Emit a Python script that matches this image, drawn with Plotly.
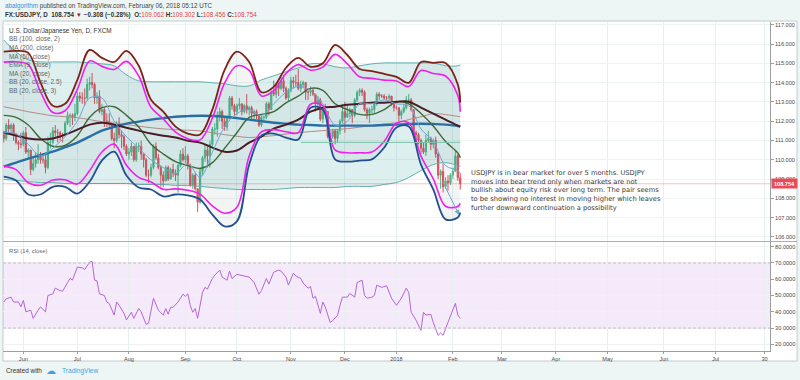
import plotly.graph_objects as go
import pandas as pd

# ---------------- data ----------------
start_date = "2017-05-22"
axis_end_date = "2018-07-31"
first_open = 111.3

closes = [
    111.1, 111.8, 111.6, 111.8, 111.3,
    110.9, 110.8, 110.8, 111.4, 110.4,
    110.5, 109.5, 109.8, 110.0, 110.3,
    110.0, 110.0, 109.6, 110.9, 110.9,
    111.5, 111.4, 111.4, 111.3, 111.3,
    111.9, 112.3, 112.3, 112.2, 112.4,
    113.3, 113.2, 113.2, 113.2, 113.9,
    114.0, 113.9, 113.2, 113.3, 112.5,
    112.6, 112.0, 112.0, 111.9, 111.1,
    111.0, 111.9, 111.3, 111.2, 110.7,
    110.3, 110.4, 110.7, 110.0, 110.7,
    110.7, 110.3, 110.0, 109.2, 109.2,
    109.6, 110.7, 110.1, 109.6, 109.2,
    108.9, 109.6, 109.0, 109.5, 109.3,
    109.2, 109.7, 110.3, 110.0, 110.2,
    109.7, 108.7, 109.2, 108.5, 107.8,
    109.4, 110.1, 110.5, 110.2, 110.8,
    111.6, 111.6, 112.3, 112.5, 112.0,
    111.7, 112.2, 113.2, 112.8, 112.5,
    112.8, 112.9, 112.5, 112.8, 112.6,
    112.7, 112.4, 112.5, 112.3, 111.8,
    112.2, 112.2, 112.9, 112.6, 113.5,
    113.4, 113.9, 113.7, 114.1, 113.7,
    113.2, 113.6, 114.1, 114.0, 114.0,
    113.7, 113.9, 114.0, 113.5, 113.5,
    113.6, 113.4, 112.9, 113.1, 112.1,
    112.6, 112.5, 111.2, 111.2, 111.5,
    111.1, 111.5, 112.0, 112.5, 112.2,
    112.4, 112.6, 112.3, 113.1, 113.5,
    113.6, 113.5, 112.6, 112.4, 112.6,
    112.6, 112.9, 113.4, 113.3, 113.3,
    113.2, 113.2, 113.3, 112.9, 112.7,
    112.7, 112.3, 112.5, 112.7, 113.1,
    113.1, 112.6, 111.4, 111.3, 111.0,
    110.6, 110.4, 111.0, 111.1, 110.8,
    111.0, 110.3, 109.2, 109.4, 108.6,
    108.9, 108.8, 109.2, 109.4, 110.2,
    109.062, 108.754]

highs = [
    111.5, 111.9, 112.1, 111.9, 111.9,
    111.4, 111.0, 111.4, 111.5, 111.7,
    110.6, 110.5, 110.2, 110.4, 110.8,
    110.4, 110.3, 110.3, 111.2, 111.4,
    111.7, 111.8, 111.6, 111.5, 111.4,
    112.0, 112.5, 112.4, 112.4, 112.9,
    113.5, 113.5, 113.5, 113.7, 114.2,
    114.3, 114.5, 114.0, 113.5, 113.6,
    112.9, 112.7, 112.4, 112.4, 111.9,
    111.4, 112.0, 112.2, 111.5, 111.3,
    110.8, 110.6, 110.9, 110.7, 110.9,
    110.9, 111.0, 110.3, 110.1, 109.5,
    109.8, 110.8, 110.9, 110.3, 109.7,
    109.4, 109.7, 109.7, 109.6, 109.8,
    109.5, 109.8, 110.5, 110.6, 110.7,
    110.3, 109.8, 109.3, 109.3, 108.5,
    109.6, 110.2, 110.8, 110.7, 111.0,
    111.7, 111.9, 112.5, 112.7, 112.6,
    112.2, 112.3, 113.3, 113.3, 112.9,
    112.9, 113.2, 112.9, 112.9, 113.4,
    112.8, 112.8, 112.6, 112.6, 112.3,
    112.3, 112.3, 113.0, 113.0, 113.6,
    114.1, 113.9, 114.0, 114.3, 114.4,
    113.8, 113.7, 114.3, 114.3, 114.4,
    114.7, 114.1, 114.1, 114.0, 113.6,
    113.8, 113.7, 113.4, 113.3, 113.2,
    112.7, 112.9, 112.5, 111.4, 111.6,
    111.6, 111.6, 112.1, 112.9, 113.0,
    112.9, 112.7, 112.6, 113.2, 113.6,
    113.7, 113.7, 113.6, 112.7, 112.7,
    112.8, 113.0, 113.5, 113.5, 113.4,
    113.4, 113.3, 113.4, 113.3, 112.9,
    112.8, 112.7, 112.6, 112.9, 113.3,
    113.4, 113.2, 112.6, 111.5, 111.4,
    111.1, 110.9, 111.3, 111.5, 111.2,
    111.1, 111.2, 110.4, 109.5, 109.8,
    109.1, 109.2, 109.3, 109.6, 110.5,
    110.3, 109.302]

lows = [
    110.9, 111.0, 111.4, 111.3, 111.0,
    110.8, 110.5, 110.6, 110.7, 110.3,
    110.1, 109.2, 109.4, 109.6, 109.8,
    109.8, 109.8, 109.3, 109.5, 110.6,
    110.8, 111.2, 110.9, 111.0, 110.9,
    111.2, 111.8, 111.7, 111.8, 112.0,
    112.3, 113.0, 112.9, 112.8, 113.1,
    113.6, 113.7, 112.9, 112.9, 112.4,
    112.3, 111.7, 111.7, 111.6, 111.0,
    110.6, 110.9, 111.1, 110.6, 110.5,
    110.2, 110.0, 110.2, 109.9, 109.9,
    110.4, 110.0, 109.6, 109.1, 108.8,
    109.1, 109.5, 110.0, 109.5, 108.6,
    108.6, 108.9, 108.9, 109.0, 109.1,
    108.9, 108.3, 109.6, 109.9, 109.8,
    109.5, 108.6, 108.5, 108.4, 107.3,
    107.7, 109.2, 109.9, 109.6, 109.6,
    110.7, 111.3, 111.2, 112.0, 111.6,
    111.5, 111.5, 112.1, 112.6, 112.3,
    112.3, 112.6, 112.3, 112.4, 112.4,
    112.3, 112.1, 112.1, 112.1, 111.7,
    111.7, 111.9, 112.1, 112.3, 112.6,
    113.3, 113.2, 113.3, 113.6, 113.5,
    113.1, 113.0, 113.5, 113.7, 113.8,
    113.6, 113.5, 113.7, 113.1, 113.1,
    113.3, 113.3, 112.5, 112.7, 112.0,
    111.9, 112.4, 111.1, 111.0, 111.1,
    110.8, 110.9, 111.3, 111.9, 111.4,
    112.2, 112.2, 111.9, 112.2, 113.0,
    113.3, 113.3, 112.5, 112.1, 111.9,
    112.4, 112.4, 112.8, 113.1, 113.2,
    113.1, 113.1, 113.0, 112.8, 112.5,
    112.6, 112.0, 112.1, 112.4, 112.6,
    112.9, 112.5, 111.3, 110.9, 110.8,
    110.3, 110.3, 110.2, 110.9, 110.5,
    110.6, 110.1, 109.0, 108.5, 108.3,
    108.5, 108.4, 108.7, 109.0, 109.4,
    108.9, 108.456]

# indicator readings, sampled at these bar numbers
ind_idx = [0, 5, 10, 15, 20, 25, 30, 35, 40, 45, 50, 55, 60, 65, 70, 75, 80, 85, 90,
           95, 100, 105, 110, 115, 120, 125, 130, 135, 140, 145, 150, 155, 160, 165,
           170, 175, 180, 185, 186]

bb100_upper = [116.21, 115.59, 115.18, 115.07, 115.07, 115.07, 115.07, 115.02, 114.97, 114.87,
               114.40, 114.09, 114.04, 114.04, 114.04, 114.04, 114.04, 113.99, 113.94, 113.83,
               113.83, 114.14, 114.35, 114.56, 114.76, 114.97, 114.97, 114.82, 114.76, 114.87,
               114.97, 115.02, 115.02, 115.02, 115.02, 115.02, 114.87, 114.87, 114.92]
bb100_lower = [108.98, 108.93, 108.87, 108.82, 108.82, 108.77, 108.77, 108.77, 108.77, 108.77,
               108.77, 108.72, 108.72, 108.72, 108.67, 108.67, 108.62, 108.56, 108.51, 108.46,
               108.46, 108.46, 108.46, 108.51, 108.56, 108.56, 108.56, 108.56, 108.62, 108.62,
               108.62, 108.72, 108.82, 109.08, 109.44, 109.75, 109.85, 109.70, 109.65]
bb100_basis = [112.75, 112.62, 112.49, 112.38, 112.28, 112.23, 112.18, 112.08, 111.97, 111.90,
               111.82, 111.74, 111.66, 111.60, 111.56, 111.53, 111.50, 111.40, 111.30, 111.22,
               111.15, 111.20, 111.25, 111.33, 111.41, 111.46, 111.51, 111.56, 111.61, 111.69,
               111.77, 111.85, 111.92, 112.08, 112.23, 112.39, 112.34, 112.25, 112.23]
ma200 = [109.65, 109.85, 110.06, 110.24, 110.42, 110.65, 110.89, 111.20, 111.51, 111.70,
         111.87, 111.98, 112.08, 112.16, 112.23, 112.26, 112.28, 112.27, 112.23, 112.16,
         112.08, 112.00, 111.92, 111.87, 111.82, 111.80, 111.77, 111.77, 111.77, 111.77,
         111.77, 111.80, 111.82, 111.85, 111.87, 111.85, 111.82, 111.75, 111.72]
ma50 = [111.41, 111.25, 111.10, 111.05, 111.10, 111.30, 111.56, 111.82, 111.92, 111.82,
        111.66, 111.51, 111.36, 111.25, 111.15, 110.99, 110.89, 110.63, 110.42, 110.48,
        110.89, 111.20, 111.61, 111.82, 112.08, 112.49, 112.70, 112.75, 112.85, 112.90,
        112.96, 112.96, 113.01, 113.01, 112.70, 112.39, 112.08, 111.77, 111.72]
ma20 = [112.30, 112.20, 111.80, 111.10, 110.70, 110.75, 111.25, 112.20, 112.70, 112.75,
        112.30, 111.70, 110.80, 110.30, 109.90, 109.70, 109.55, 109.85, 110.60, 111.40,
        112.20, 112.35, 112.50, 112.95, 113.30, 113.70, 113.60, 112.90, 112.60, 112.35,
        112.35, 112.60, 113.00, 112.90, 112.40, 111.75, 110.95, 110.35, 110.10]
ema9 = [111.40, 111.35, 110.80, 110.20, 110.60, 111.20, 112.00, 113.20, 113.20, 112.00,
        111.20, 110.60, 110.00, 109.60, 109.30, 109.80, 109.10, 110.40, 111.70, 112.40,
        112.60, 112.30, 112.90, 113.50, 113.80, 113.60, 112.90, 111.80, 112.00, 112.90,
        112.90, 113.10, 112.90, 112.80, 111.60, 110.95, 109.70, 109.45, 109.30]
bb3_upper = [115.60, 115.64, 115.54, 114.00, 112.80, 112.90, 114.14, 115.69, 115.28, 115.07,
             115.64, 114.87, 113.11, 112.49, 111.72, 111.36, 111.31, 112.60, 114.66, 115.60,
             115.07, 113.50, 113.78, 114.77, 115.28, 114.82, 115.00, 115.95, 115.43, 114.70,
             114.60, 114.45, 114.30, 113.99, 115.07, 115.02, 115.02, 113.90, 112.96]
bb3_lower = [109.13, 108.93, 108.20, 108.20, 108.60, 108.60, 108.25, 108.87, 109.96, 110.42,
             109.18, 108.56, 108.46, 108.10, 108.20, 108.15, 107.94, 107.16, 106.55, 106.81,
             109.75, 111.25, 111.36, 111.15, 111.05, 112.70, 112.60, 110.02, 109.90, 109.96,
             110.02, 110.63, 111.67, 111.72, 109.75, 108.46, 106.91, 107.01, 107.27]
bb25_upper = [115.06, 115.08, 114.93, 113.52, 112.45, 112.54, 113.65, 115.12, 114.84, 114.68,
              115.10, 114.34, 112.72, 112.12, 111.43, 111.09, 111.03, 112.15, 113.98, 114.87,
              114.63, 113.31, 113.58, 114.47, 114.93, 114.64, 114.80, 115.46, 114.97, 114.30,
              114.22, 114.13, 114.08, 113.80, 114.63, 114.47, 114.34, 113.33, 112.49]
bb25_lower = [109.67, 109.49, 108.81, 108.68, 108.95, 108.96, 108.74, 109.44, 110.40, 110.81,
              109.72, 109.09, 108.85, 108.47, 108.49, 108.42, 108.22, 107.61, 107.23, 107.54,
              110.19, 111.44, 111.56, 111.45, 111.40, 112.88, 112.80, 110.51, 110.36, 110.36,
              110.40, 110.95, 111.89, 111.91, 110.19, 109.01, 107.59, 107.58, 107.74]

rsi_idx = [0, 1, 3, 4, 6, 7, 8, 9, 11, 12, 14, 15, 17, 18, 20, 21, 23, 24, 26, 27, 28, 30, 32,
           33, 35, 36, 37, 38, 39, 41, 42, 43, 45, 46, 47, 49, 50, 52, 53, 55, 56, 58, 59, 61,
           63, 65, 66, 67, 68, 69, 71, 73, 74, 75, 76, 77, 78, 79, 81, 82, 83, 85, 86, 87, 88,
           89, 91, 92, 93, 95, 97, 100, 102, 104, 105, 107, 108, 110, 112, 113, 115, 116, 118,
           119, 121, 122, 124, 125, 126, 127, 129, 130, 131, 133, 134, 136, 137, 138, 140, 141,
           143, 144, 146, 147, 148, 150, 151, 152, 154, 156, 158, 159, 160, 162, 164, 165, 166,
           168, 170, 171, 172, 174, 175, 177, 178, 179, 180, 181, 184, 185, 186]
rsi_val = [46, 48, 49, 46, 46, 43, 47, 40, 41, 36, 41, 43, 40, 50, 51, 54.5, 53, 52.6, 58, 60.5,
           59.5, 67.5, 67, 66, 70.5, 71, 59.5, 59, 51, 50, 46, 45, 38, 46, 44, 39, 35, 39.7, 36,
           42, 40, 32.3, 33, 48.3, 41, 38, 42, 38.5, 42.8, 42.8, 46, 50.8, 49.5, 51, 44, 39.7, 42,
           36, 52, 55, 54, 60.5, 62.5, 64.4, 65.6, 61.3, 59.4, 65, 60.5, 63, 62.5, 61.3, 58, 50.8,
           53, 60.5, 57, 64.4, 65.6, 65, 61.3, 56.4, 63.8, 62, 60.5, 57.6, 54.5, 55.5, 48.3, 49.5,
           39, 46, 43, 33.5, 34.5, 37.8, 44, 49, 49, 51.3, 49, 58, 59.4, 50, 48.3, 49, 50, 56.4,
           55, 56, 48.3, 46, 44, 48.3, 54.5, 52, 39.7, 34.8, 28.6, 39.7, 38, 38.4, 33.5, 25.5, 27,
           25.5, 29.8, 33.5, 45.2, 38, 36]

support_level = 110.9
support_from_bar = 121
last_price = 108.754
# drawn down-arrow at the end of the series: (bar, price) tail and head
arrow_tail = (178.5, 108.95)
arrow_head = (185.5, 107.15)

tick_dates = ["2017-06-01", "2017-07-03", "2017-08-01", "2017-09-01", "2017-10-02",
              "2017-11-01", "2017-12-01", "2018-01-01", "2018-02-01", "2018-03-01",
              "2018-04-02", "2018-05-01", "2018-06-01", "2018-07-02", "2018-07-30"]
tick_labels = ["Jun", "Jul", "Aug", "Sep", "Oct", "Nov", "Dec", "2018", "Feb", "Mar",
               "Apr", "May", "Jun", "Jul", "30"]
price_ticks = [106, 107, 108, 109, 110, 111, 112, 113, 114, 115, 116, 117]
rsi_ticks = [20, 30, 40, 50, 60, 70, 80]

legend_lines = ["U.S. Dollar/Japanese Yen, D, FXCM", "BB (100, close, 2)", "MA (200, close)",
                "MA (50, close)", "EMA (9, close)", "MA (20, close)", "BB (20, close, 2.5)",
                "BB (20, close, 3)"]
note_lines = ["USDJPY is in bear market for over 5 months. USDJPY",
              "moves into bear trend only when markets are not",
              "bullish about equity risk over long term. The pair seems",
              "to be showing no interest in moving higher which leaves",
              "further downward continuation a possibility"]

# ---------------- layout helpers ----------------
W, H = 800, 380
LM, RM, TM, BM = 3, 30, 22, 29
PW, PH = W - LM - RM, H - TM - BM


def px(x):
    return (x - LM) / PW


def py(y):
    return (H - BM - y) / PH


bars = list(range(len(closes)))
opens = [first_open] + closes[:-1]
axis_days = pd.bdate_range(start_date, axis_end_date)
pos = {d.strftime("%Y-%m-%d"): i for i, d in enumerate(axis_days)}
tick_x = [pos[d] for d in tick_dates]

UP, DOWN = "#53b987", "#eb4d5c"
AX_FONT = dict(family="Liberation Sans, Arial", size=5.6, color="#4a4a4a")

fig = go.Figure()

fig.add_trace(go.Candlestick(
    x=bars, open=opens, high=highs, low=lows, close=closes,
    increasing=dict(line=dict(color=UP, width=1), fillcolor=UP),
    decreasing=dict(line=dict(color=DOWN, width=1), fillcolor=DOWN),
    whiskerwidth=0, hoverinfo="skip", showlegend=False, xaxis="x", yaxis="y"))


def band(lo, hi, color):
    fig.add_trace(go.Scatter(x=ind_idx, y=lo, mode="lines", line=dict(width=0, shape="spline"),
                             hoverinfo="skip", showlegend=False))
    fig.add_trace(go.Scatter(x=ind_idx, y=hi, mode="lines", line=dict(width=0, shape="spline"),
                             fill="tonexty", fillcolor=color, hoverinfo="skip", showlegend=False))


band(bb100_lower, bb100_upper, "rgba(0,128,128,0.13)")
band(bb3_lower, bb3_upper, "rgba(90,110,110,0.07)")


def line(y, color, width):
    fig.add_trace(go.Scatter(x=ind_idx, y=y, mode="lines",
                             line=dict(color=color, width=width, shape="spline"),
                             hoverinfo="skip", showlegend=False))


line(bb100_basis, "#b38b86", 1)
line(bb100_upper, "#5fb0b2", 1)
line(bb100_lower, "#5fb0b2", 1)
line(ma200, "#2a6ea6", 2.4)
line(ma20, "#3f6a37", 1.4)
line(ma50, "#4a1c26", 2)
line(ema9, "#6fa7d4", 1)
line(bb25_upper, "#f01ff0", 1.6)
line(bb25_lower, "#f01ff0", 1.6)
line(bb3_upper, "#7d2218", 1.8)
line(bb3_lower, "#224f90", 1.8)

fig.add_trace(go.Scatter(x=[support_from_bar, bars[-1]], y=[support_level, support_level],
                         mode="lines", line=dict(color="#7cc3a8", width=1),
                         hoverinfo="skip", showlegend=False))

fig.add_trace(go.Scatter(x=rsi_idx, y=rsi_val, mode="lines", xaxis="x2", yaxis="y2",
                         line=dict(color="#b466d6", width=1), hoverinfo="skip", showlegend=False))

shapes = [
    dict(type="rect", xref="paper", yref="paper", x0=px(3), x1=px(797), y0=py(361), y1=py(21),
         fillcolor="white", line=dict(color="#c4caca", width=1), layer="below"),
    dict(type="rect", xref="paper", yref="y2", x0=0, x1=1, y0=30, y1=70,
         fillcolor="rgba(153,50,204,0.10)", line=dict(width=0), layer="below"),
    dict(type="line", xref="paper", yref="y2", x0=0, x1=1, y0=70, y1=70,
         line=dict(color="#c6bccb", width=1, dash="3px,2px")),
    dict(type="line", xref="paper", yref="y2", x0=0, x1=1, y0=30, y1=30,
         line=dict(color="#c6bccb", width=1, dash="3px,2px")),
    dict(type="line", xref="paper", yref="y", x0=0, x1=1, y0=last_price, y1=last_price,
         line=dict(color="rgba(235,77,92,0.35)", width=1)),
    dict(type="line", xref="paper", yref="paper", x0=px(3), x1=px(797), y0=py(241.5), y1=py(241.5),
         line=dict(color="#a8aeae", width=1)),
]

ann = []
ann.append(dict(xref="paper", yref="paper", x=px(3), y=py(6), xanchor="left", yanchor="middle",
                showarrow=False, font=dict(family="Liberation Sans, Arial", size=6.3, color="#444"),
                text='<span style="color:#3b8ed8">abalgorithm</span> published on TradingView.com, February 06, 2018 05:12 UTC'))
ann.append(dict(xref="paper", yref="paper", x=px(3), y=py(15), xanchor="left", yanchor="middle",
                showarrow=False, font=dict(family="Liberation Sans, Arial", size=6.3, color="#333"),
                text='<b>FX:USDJPY, D</b>  <b>108.754</b> <span style="color:#a81f1f">▼</span> <b>−0.308 (−0.28%)</b>  '
                     '<b>O:</b><span style="color:#e0434b">109.062</span> <b>H:</b><span style="color:#e0434b">109.302</span> '
                     '<b>L:</b><span style="color:#e0434b">108.456</span> <b>C:</b><span style="color:#e0434b">108.754</span>'))
leg_y = [31, 39.4, 47.9, 56.5, 65.0, 73.5, 82.1, 90.7]
for i, (t, yy) in enumerate(zip(legend_lines, leg_y)):
    ann.append(dict(xref="paper", yref="paper", x=px(7), y=py(yy), xanchor="left", yanchor="middle",
                    showarrow=False, text=t,
                    font=dict(family="Liberation Sans, Arial", size=6.4,
                              color="#333" if i == 0 else "#666")))
ann.append(dict(xref="paper", yref="paper", x=px(7), y=py(250.5), xanchor="left", yanchor="middle",
                showarrow=False, text="RSI (14, close)",
                font=dict(family="Liberation Sans, Arial", size=5.8, color="#666")))
ann.append(dict(xref="paper", yref="paper", x=px(469), y=py(167.3), xanchor="left",
                yanchor="top", align="left", showarrow=False, text="<br>".join(note_lines),
                font=dict(family="DejaVu Sans, Verdana", size=6.7, color="#3a3a3a")))
ann.append(dict(xref="x", yref="y", x=arrow_head[0], y=arrow_head[1],
                axref="x", ayref="y", ax=arrow_tail[0], ay=arrow_tail[1], text="",
                showarrow=True, arrowhead=2, arrowsize=1, arrowwidth=1, arrowcolor="#6fa7d4"))
ann.append(dict(xref="paper", yref="y", x=px(771), y=last_price, xanchor="left", yanchor="middle",
                showarrow=False, text="<b>108.754</b>", bgcolor="#ea4a56", borderpad=1.5, width=22,
                font=dict(family="Liberation Sans, Arial", size=5.6, color="white")))
ann.append(dict(xref="paper", yref="paper", x=px(4), y=py(370.5), xanchor="left", yanchor="middle",
                showarrow=False, text="Created with",
                font=dict(family="Liberation Sans, Arial", size=6.4, color="#333")))
ann.append(dict(xref="paper", yref="paper", x=px(44), y=py(370), xanchor="left", yanchor="middle",
                showarrow=False, text="☁",
                font=dict(family="DejaVu Sans", size=10, color="#3ba4e0")))
ann.append(dict(xref="paper", yref="paper", x=px(60), y=py(370.5), xanchor="left", yanchor="middle",
                showarrow=False, text="TradingView",
                font=dict(family="Liberation Sans, Arial", size=6.6, color="#3ba4e0")))

xr = [-0.3, 312.2]
grid_x = "#e7f0f1"
fig.update_layout(
    width=W, height=H, margin=dict(l=LM, r=RM, t=TM, b=BM),
    paper_bgcolor="#eef6f5", plot_bgcolor="white",
    showlegend=False, shapes=shapes, annotations=ann,
    xaxis=dict(domain=[0, 1], anchor="y", range=xr, tickvals=tick_x, ticktext=tick_labels,
               showticklabels=False, showgrid=True, gridcolor=grid_x, gridwidth=1, zeroline=False,
               rangeslider=dict(visible=False), fixedrange=True),
    xaxis2=dict(domain=[0, 1], anchor="y2", range=xr, matches="x", tickvals=tick_x,
                ticktext=tick_labels, showgrid=True, gridcolor=grid_x, gridwidth=1, zeroline=False,
                showline=True, linecolor="#9aa0a0", linewidth=1, ticks="outside", ticklen=2,
                tickcolor="#9aa0a0", tickfont=AX_FONT, rangeslider=dict(visible=False)),
    yaxis=dict(domain=[py(241), 1], range=[105.79, 117.14], side="right", tickvals=price_ticks,
               ticktext=[f"{v:.3f}" for v in price_ticks], showgrid=True, gridcolor="#eef3f3",
               zeroline=False, showline=True, linecolor="#9aa0a0", linewidth=1,
               ticks="outside", ticklen=3, tickcolor="#9aa0a0", tickfont=AX_FONT),
    yaxis2=dict(domain=[0, py(242)], range=[15.9, 82.9], side="right", tickvals=rsi_ticks,
                ticktext=[f"{v:.4f}" for v in rsi_ticks], showgrid=True, gridcolor="#eef2f3",
                zeroline=False, showline=True, linecolor="#9aa0a0", linewidth=1,
                ticks="outside", ticklen=3, tickcolor="#9aa0a0", tickfont=AX_FONT),
)

fig.write_html("out.html", config={"displayModeBar": False, "staticPlot": True},
               post_script="document.body.style.margin='0';document.body.style.overflow='hidden';")
